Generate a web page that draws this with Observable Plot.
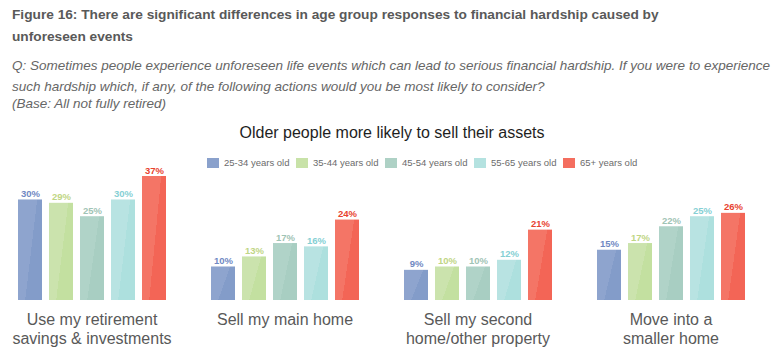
<!DOCTYPE html>
<html>
<head>
<meta charset="utf-8">
<script src="https://cdn.jsdelivr.net/npm/d3@7"></script>
<script src="https://cdn.jsdelivr.net/npm/@observablehq/plot@0.6"></script>
<style>
  html, body { margin: 0; padding: 0; background: #fff; }
  body { width: 778px; height: 357px; position: relative; overflow: hidden; font-family: "Liberation Sans", Arial, sans-serif; }
  .abs { position: absolute; white-space: nowrap; }
  .hd { left: 12px; font-size: 13.7px; font-weight: bold; color: #595959; line-height: 16px; }
  .q { left: 12px; font-size: 13.5px; font-style: italic; color: #666; line-height: 16px; }
  .ct { left: 0; width: 784px; text-align: center; font-size: 16px; color: #1e1e1e; line-height: 20px; }
  .lg { top: 157px; left: 207px; display: flex; font-size: 9.5px; color: #6b6b6b; line-height: 12px; }
  .lg .it { display: flex; align-items: center; width: 89px; }
  .lg .sw { width: 12px; height: 10px; margin-right: 5px; }
  #chart { position: absolute; left: 0; top: 165px; }
</style>
</head>
<body>
<div class="abs hd" style="top:7px">Figure 16: There are significant differences in age group responses to financial hardship caused by</div>
<div class="abs hd" style="top:29px">unforeseen events</div>
<div class="abs q" style="top:58px">Q: Sometimes people experience unforeseen life events which can lead to serious financial hardship. If you were to experience</div>
<div class="abs q" style="top:79px">such hardship which, if any, of the following actions would you be most likely to consider?</div>
<div class="abs q" style="top:96px">(Base: All not fully retired)</div>
<div class="abs ct" style="top:123px">Older people more likely to sell their assets</div>
<div class="abs lg" id="legend"></div>
<div id="chart"></div>
<script>
const categories = ["Use my retirement\nsavings & investments", "Sell my main home", "Sell my second\nhome/other property", "Move into a\nsmaller home"];
const ageGroups = ["25-34 years old", "35-44 years old", "45-54 years old", "55-65 years old", "65+ years old"];
const values25to34 = [30, 10, 9, 15];
const values35to44 = [29, 13, 10, 17];
const values45to54 = [25, 17, 10, 22];
const values55to65 = [30, 16, 12, 25];
const values65plus = [37, 24, 21, 26];

const seriesValues = [values25to34, values35to44, values45to54, values55to65, values65plus];
const barDark = ["#839CC9", "#C3E0A0", "#A8CEC2", "#ADE0DE", "#F36556"];
const barLight = ["#8EA4CE", "#CBE3AD", "#B0D3C8", "#B8E3E2", "#F47566"];
const legendColors = ["#8AA1CC", "#C8E2A8", "#AED1C5", "#B4E2E0", "#F46E5F"];
const labelColors = ["#7089C3", "#BFD685", "#9FC4B5", "#85D0D4", "#E8432F"];

const data = [];
ageGroups.forEach((age, i) => {
  categories.forEach((cat, j) => data.push({cat, age, ai: i, value: seriesValues[i][j]}));
});

// legend
const lg = document.getElementById("legend");
ageGroups.forEach((age, i) => {
  const it = document.createElement("div");
  it.className = "it";
  it.innerHTML = `<span class="sw" style="background:${legendColors[i]}"></span><span>${age}</span>`;
  lg.appendChild(it);
});

const marks = [];
ageGroups.forEach((age, i) => {
  const sub = data.filter(d => d.ai === i);
  marks.push(Plot.barY(sub, {fx: "cat", x: "age", y: "value", fill: `url(#grad${i})`, inset: 0}));
  marks.push(Plot.text(sub, {
    fx: "cat", x: "age", y: "value", text: d => d.value + "%",
    dy: -3, lineAnchor: "bottom", fill: labelColors[i],
    fontWeight: "bold", fontSize: 9.5
  }));
});
marks.push(Plot.axisFx({
  anchor: "bottom", tickSize: 0, tickPadding: 11, fontSize: 16, lineHeight: 1.2,
  fill: "#595959", label: null
}));

const svg = Plot.plot({
  width: 778,
  height: 192,
  marginLeft: 16,
  marginRight: 31,
  marginTop: 11,
  marginBottom: 57,
  style: {fontFamily: "'Liberation Sans', Arial, sans-serif", background: "transparent", overflow: "visible"},
  fx: {domain: categories, paddingInner: 0.227, paddingOuter: 0, label: null},
  x: {domain: ageGroups, paddingInner: 0.24, paddingOuter: 0, axis: null},
  y: {domain: [0, 37], axis: null},
  marks
});

const defs = d3.select(svg).insert("defs", ":first-child");
ageGroups.forEach((age, i) => {
  const g = defs.append("linearGradient").attr("id", `grad${i}`)
    .attr("x1", 0).attr("y1", 0).attr("x2", 1).attr("y2", 0.5);
  g.append("stop").attr("offset", 0).attr("stop-color", barLight[i]);
  g.append("stop").attr("offset", 0.64).attr("stop-color", barLight[i]);
  g.append("stop").attr("offset", 0.64).attr("stop-color", barDark[i]);
  g.append("stop").attr("offset", 1).attr("stop-color", barDark[i]);
});

document.getElementById("chart").appendChild(svg);
</script>
</body>
</html>
